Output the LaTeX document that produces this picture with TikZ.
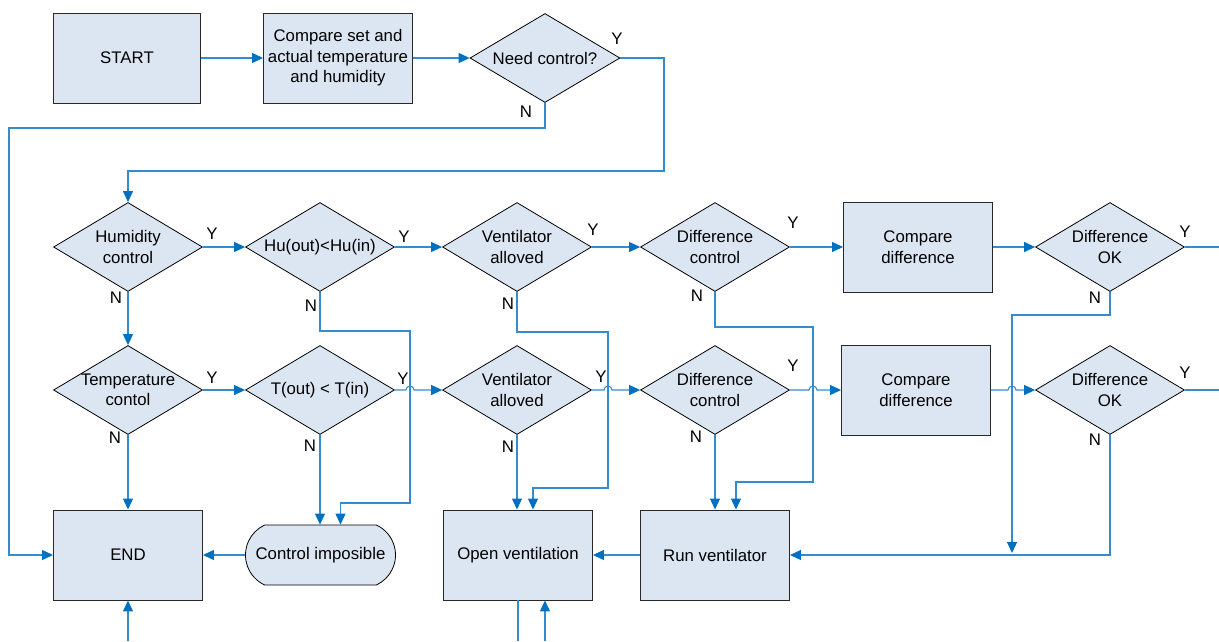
\documentclass[tikz,border=0pt]{standalone}
\usepackage{fontspec}
\setmainfont{Liberation Sans}
\usetikzlibrary{arrows.meta,shapes.geometric,shapes.misc}
\definecolor{lineblue}{RGB}{52,140,206}
\definecolor{tipblue}{RGB}{0,112,192}
\definecolor{boxfill}{RGB}{220,230,242}
\definecolor{edgegray}{RGB}{40,40,40}
\begin{document}
\begin{tikzpicture}[x=1pt,y=-1pt,
  font=\fontsize{16.8}{20.5}\selectfont,
  box/.style={rectangle,draw=edgegray,fill=boxfill,line width=0.9pt,minimum width=149pt,minimum height=90pt,inner sep=0pt,align=center},
  dia/.style={diamond,draw=black,fill=boxfill,line width=0.8pt,minimum width=149pt,minimum height=89pt,inner sep=0pt},
  stadium/.style={rounded rectangle,rounded rectangle arc length=130,draw=black,fill=boxfill,line width=0.8pt,minimum width=150pt,minimum height=60pt,inner sep=0pt},
  txt/.style={align=center,inner sep=0pt},
  yn/.style={inner sep=0pt},
  flow/.style={draw=lineblue,line width=1.1pt},
  arr/.style={flow,-{Triangle[length=11pt,width=10pt,color=tipblue]}},
]
\useasboundingbox (0,0) rectangle (1219,641);

% ---- top row
\node[box,minimum width=147pt] (start) at (127,58) {START};
\node[box] (cmp) at (338,58) {Compare set and\\actual temperature\\and humidity};
\node[dia,minimum width=150pt] (need) at (545,58) {};
\node[txt] (need-t) at (need) {Need control?};

% ---- row 1
\node[dia] (hum) at (128,247) {};
\node[txt] (hum-t) at (hum) {Humidity\\control};
\node[dia] (hu) at (320,247) {};
\node[txt] (hu-t) at (hu) {Hu(out)<Hu(in)};
\node[dia] (v1) at (517,247) {};
\node[txt] (v1-t) at (v1) {Ventilator\\alloved};
\node[dia] (d1) at (715,247) {};
\node[txt] (d1-t) at (d1) {Difference\\control};
\node[box] (c1) at (918,247) {Compare\\difference};
\node[dia] (ok1) at (1110,247) {};
\node[txt] (ok1-t) at (ok1) {Difference\\OK};

% ---- row 2
\node[dia] (temp) at (128,390) {};
\node[txt] (temp-t) at (temp) {Temperature\\contol};
\node[dia] (tout) at (320,390) {};
\node[txt] (tout-t) at (tout) {T(out) < T(in)};
\node[dia] (v2) at (517,390) {};
\node[txt] (v2-t) at (v2) {Ventilator\\alloved};
\node[dia] (d2) at (715,390) {};
\node[txt] (d2-t) at (d2) {Difference\\control};
\node[box] (c2) at (916,390) {Compare\\difference};
\node[dia] (ok2) at (1110,390) {};
\node[txt] (ok2-t) at (ok2) {Difference\\OK};

% ---- row 3
\node[box] (endn) at (128,555) {END};
\node[stadium] (imp) at (320.5,555) {Control imposible};
\node[box] (open) at (518,555) {Open ventilation};
\node[box] (run) at (715,555) {Run ventilator};

% ---- free ends
\coordinate (ok1out) at (1219,247);
\coordinate (ok2out) at (1219,390);
\coordinate (j) at (1012,553);
\coordinate (b1) at (128,641);
\coordinate (b2) at (518,641);
\coordinate (b3) at (545,641);

% ---- Y / N labels
\node[yn] (need-y) at (617,39) {Y};
\node[yn] (need-n) at (526,112) {N};
\node[yn] (hum-y) at (212,234) {Y};
\node[yn] (hum-n) at (116,298) {N};
\node[yn] (hu-y) at (404,237) {Y};
\node[yn] (hu-n) at (311,306) {N};
\node[yn] (v1-y) at (593,230) {Y};
\node[yn] (v1-n) at (508,304) {N};
\node[yn] (d1-y) at (793,223) {Y};
\node[yn] (d1-n) at (697,296) {N};
\node[yn] (ok1-y) at (1185,232) {Y};
\node[yn] (ok1-n) at (1095,298) {N};
\node[yn] (temp-y) at (212,378) {Y};
\node[yn] (temp-n) at (115,438) {N};
\node[yn] (tout-y) at (403,379) {Y};
\node[yn] (tout-n) at (310,446) {N};
\node[yn] (v2-y) at (601,377) {Y};
\node[yn] (v2-n) at (508,447) {N};
\node[yn] (d2-y) at (793,366) {Y};
\node[yn] (d2-n) at (696,437) {N};
\node[yn] (ok2-y) at (1185,373) {Y};
\node[yn] (ok2-n) at (1095,440) {N};

% ---- connectors: top
\draw[arr] (start.east) -- (cmp.west);
\draw[arr] (cmp.east) -- (need.west);
\draw[arr] (need.east) -| (664,171) -| (hum.north);
\draw[arr] (need.south) |- (9,128) |- (endn.west);

% ---- row 1
\draw[arr] (hum.east) -- (hu.west);
\draw[arr] (hum.south) -- (temp.north);
\draw[arr] (hu.east) -- (v1.west);
\draw[arr] (hu.south) |- (410,331) -- (410,503) -| ([xshift=20pt]imp.north);
\draw[arr] (v1.east) -- (d1.west);
\draw[arr] (v1.south) |- (608,332) -- (608,488) -| ([xshift=15pt]open.north);
\draw[arr] (d1.east) -- (c1.west);
\draw[arr] (d1.south) |- (813,327) -- (813,482) -| ([xshift=21pt]run.north);
\draw[arr] (c1.east) -- (ok1.west);
\draw[flow] (ok1.east) -- (ok1out);
\draw[arr] (ok1.south) |- (1012,315) -- (j);

% ---- row 2
\draw[arr] (temp.east) -- (tout.west);
\draw[arr] (temp.south) -- (endn.north);
\draw[arr] (tout.south) -- (tout.south |- imp.north);
\draw[arr] (tout.east) -- (406,390) arc[start angle=180,end angle=0,radius=4pt] -- (v2.west);
\draw[arr] (v2.south) -- (v2.south |- open.north);
\draw[arr] (v2.east) -- (604,390) arc[start angle=180,end angle=0,radius=4pt] -- (d2.west);
\draw[arr] (d2.south) -- (d2.south |- run.north);
\draw[arr] (d2.east) -- (809,390) arc[start angle=180,end angle=0,radius=4pt] -- (c2.west);
\draw[arr] (c2.east) -- (1008,390) arc[start angle=180,end angle=0,radius=4pt] -- (ok2.west);
\draw[flow] (ok2.east) -- (ok2out);
\draw[arr] (ok2.south) |- (run.east);

% ---- row 3
\draw[arr] (imp.west) -- (endn.east);
\draw[arr] (run.west) -- (open.east);
\draw[arr] (b1) -- (endn.south);
\draw[flow] (open.south) -- (b2);
\draw[arr] (b3) -- (b3 |- open.south);
\end{tikzpicture}
\end{document}
